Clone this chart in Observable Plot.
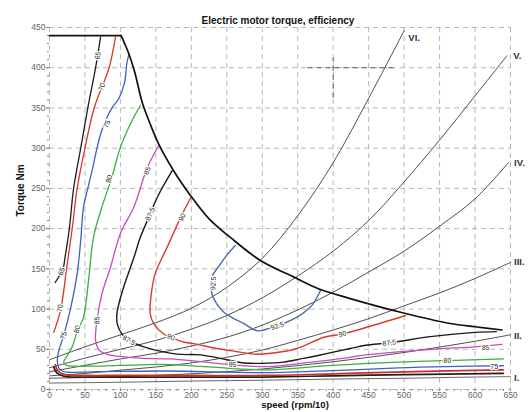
<!DOCTYPE html>
<html><head><meta charset="utf-8">
<script src="https://cdn.jsdelivr.net/npm/d3@7"></script>
<script src="https://cdn.jsdelivr.net/npm/@observablehq/plot@0.6"></script>
<style>body{margin:0;background:#fff}svg{display:block}</style>
</head><body><div id="chart"></div>
<script>
const title = "Electric motor torque, efficiency";
const xLabel = "speed (rpm/10)";
const yLabel = "Torque Nm";
const xTicks = [0,50,100,150,200,250,300,350,400,450,500,550,600,650];
const yTicks = [0,50,100,150,200,250,300,350,400,450];

// maximum torque envelope
const envelope = [[0,440],[101,440],[106,430],[112,417],[120,395],[131,356],[142,330],[154,305],[175,272],[199,241],[225,212],[255,189],[298,160],[344,140],[380,125],[424,113],[495,96],[565,82],[600,78],[638,74]];

// operating (road load) lines
const lineI   = [[0,8],[100,9],[200,10.5],[300,11.5],[400,13],[500,14],[600,15.5],[650,16]];
const lineII  = [[0,14],[100,16],[200,19.5],[300,25.5],[400,34.5],[500,46],[600,60],[650,68]];
const lineIII = [[0,17],[50,20],[100,24],[150,28],[200,33],[250,40],[300,49],[350,61],[400,74],[450,88],[500,104],[550,120],[600,138],[650,158]];
const lineIV  = [[0,22],[50,30],[100,38],[150,45],[200,54],[250,65],[300,80],[350,99],[400,121],[450,146],[500,172],[550,203],[600,237],[647,282]];
const lineV   = [[0,27],[50,39],[100,50],[150,61],[200,75],[250,92],[300,114],[350,141],[400,172],[450,210],[500,258],[550,310],[600,365],[645,415]];
const lineVI  = [[0,37],[50,53],[100,68],[150,83],[200,101],[250,127],[300,163],[350,216],[400,282],[450,362],[500,446]];
const lineLabels = [["VI.",506,437],["V.",654,415],["IV.",655,281],["III.",655,158],["II.",655,67],["I.",655,14]];

// efficiency contours (%)
const c65a = [[72,438],[65,400],[54,350],[44,300],[34,250],[28,200],[22,165],[19,150],[8,133]];
const c65b = [[6,28],[10,21],[20,16.5],[50,15.5],[100,15.5],[200,15.5],[300,15.5],[400,17],[500,18.5],[640,20]];
const c70a = [[93,438],[84,400],[63,350],[50,300],[39,250],[32,200],[24,150],[16,100],[6,71]];
const c70b = [[8,31],[12,23],[22,18.5],[50,17.5],[100,17.5],[200,17.5],[300,17.5],[400,19.5],[500,22],[640,24.5]];
const c75  = [[112,417],[109,405],[106,382],[98,362],[88,350],[73,320],[60,272],[54,250],[48,227],[44,185],[39,144],[30,102],[20,67],[13,48],[11,36],[13,27],[18,23],[25,21.5],[60,22],[100,22.5],[171,23],[250,21.5],[305,21],[400,23.5],[492,27],[560,28.5],[640,29.5]];
const c80  = [[128,353],[114,330],[100,301],[88,264],[74,227],[62,189],[55,135],[48,90],[39,72],[32,53],[25,42],[20,34],[24,30],[35,29],[60,29],[100,30],[171,31],[260,26],[311,24.5],[399,30],[492,34],[561,36],[640,38]];
const c85  = [[154,303],[138,276],[119,227],[100,194],[86,152],[74,119],[67,86],[65,61],[70,49],[80,44],[91,42],[128,39],[171,38],[210,35],[260,30.5],[307,28.5],[360,33],[424,40],[446,43],[540,50],[600,53],[638,56]];
const c875 = [[173,272],[152,239],[142,218],[128,189],[119,164],[103,123],[95,94],[96,80],[103,68],[112,61],[133,53],[180,44],[213,43],[250,37],[274,33],[300,32.5],[330,34],[354,38],[377,42],[424,51],[446,55],[479,58],[540,66],[600,71],[630,72]];
const c90  = [[199,238],[185,214],[166,177],[149,144],[143,115],[142,94],[147,82],[161,69],[171,65],[189,59],[203,57],[236,51],[265,47],[288,44],[312,45],[349,51],[387,65],[413,69],[450,78],[502,92]];
const c925 = [[262,179],[250,167],[241,156],[229,140],[228,130],[229,119],[236,106],[246,96],[260,88],[274,82],[293,73],[310,76],[321,79],[349,90],[365,100],[373,108],[382,123]];
const contourLabels = [
  ["65",68,415,-81],["65",17,147,-72],
  ["70",74,376,-70],["70",15,101,-78],
  ["75",81,330,-67],["75",20,67,-72],["75",627,28,0],
  ["80",84,262,-72],["80",39,75,-75],["80",561,36,-2],
  ["85",138,272,-68],["85",67,86,-88],["85",258,31,6],["85",615,52,-3],
  ["87.5",142,218,-67],["87.5",112,61,30],["87.5",479,58,-8],
  ["90",187,214,-64],["90",171,65,22],["90",413,69,-15],
  ["92.5",231,132,-88],["92.5",321,79,-19]
];
const cursorH = [364,490,400];
const cursorV = [400,362,412];

const rows = a => a.map(([x,y]) => ({x,y}));
const minorX = d3.range(0,651,10);
const minorY = d3.range(0,451,10);
const FONT = "Liberation Sans, Arial, sans-serif";

const contours = [
  [c65a,"#1e1e1e",1.3],[c65b,"#2a1a1a",1.7],
  [c70a,"#d8362c",1.3],[c70b,"#c8302a",1.7],
  [c75,"#3f5fc6",1.3],[c80,"#3bb03b",1.3],[c85,"#c04ec0",1.3],
  [c875,"#1a1a1a",1.4],[c90,"#d83a2e",1.4],[c925,"#4a6cb2",1.4]
];
const roadLines = [lineII,lineIII,lineIV,lineV,lineVI];

const plot = Plot.plot({
  width: 532, height: 412,
  marginLeft: 49, marginRight: 22, marginTop: 27, marginBottom: 23,
  style: {fontFamily: FONT, background: "#fff"},
  x: {domain: [0,650], label: null},
  y: {domain: [0,450], label: null},
  marks: [
    Plot.ruleX(xTicks, {stroke: "#a6a6a6", strokeWidth: 0.8, strokeDasharray: "5,4"}),
    Plot.ruleY(yTicks, {stroke: "#a6a6a6", strokeWidth: 0.8, strokeDasharray: "5,4"}),
    Plot.ruleY([cursorH[2]], {x1: cursorH[0], x2: cursorH[1], stroke: "#555", strokeWidth: 1, strokeDasharray: "5,4"}),
    Plot.ruleX([cursorV[0]], {y1: cursorV[1], y2: cursorV[2], stroke: "#555", strokeWidth: 1, strokeDasharray: "5,4"}),
    Plot.axisX({ticks: minorX, tickSize: 2, tickFormat: () => "", stroke: "#888"}),
    Plot.axisY({ticks: minorY, tickSize: 2, tickFormat: () => "", stroke: "#888"}),
    Plot.axisX({ticks: xTicks, tickSize: 2, tickPadding: 0, fontSize: 8.5, color: "#666", stroke: "#888"}),
    Plot.axisY({ticks: yTicks, tickSize: 3, tickPadding: 1, fontSize: 8.5, color: "#666", stroke: "#888"}),
    Plot.line(rows(lineI), {x: "x", y: "y", stroke: "#666", strokeWidth: 1, curve: "catmull-rom"}),
    ...roadLines.map(l => Plot.line(rows(l), {x: "x", y: "y", stroke: "#222", strokeWidth: 0.8, curve: "catmull-rom"})),
    ...contours.map(([c,col,w]) => Plot.line(rows(c), {x: "x", y: "y", stroke: col, strokeWidth: w, curve: "catmull-rom"})),
    Plot.line(rows(envelope.slice(0,2)), {x: "x", y: "y", stroke: "#111", strokeWidth: 1.7}),
    Plot.line(rows(envelope.slice(1)), {x: "x", y: "y", stroke: "#111", strokeWidth: 1.7, curve: "catmull-rom"}),
    Plot.text(contourLabels, {x: d => d[1], y: d => d[2], text: d => d[0], rotate: d => d[3], fontSize: 7, fill: "#222", stroke: "white", strokeWidth: 2.5, paintOrder: "stroke"}),
    Plot.text(lineLabels, {x: d => d[1], y: d => d[2], text: d => d[0], textAnchor: "start", fontSize: 9.5, fontWeight: "bold", fill: "#333"}),
    Plot.text([title], {text: d => d, frameAnchor: "top", dy: -11, dx: -2, fontSize: 10, fontWeight: "bold", fill: "#111"}),
    Plot.text([xLabel], {text: d => d, frameAnchor: "bottom", dy: 18.5, dx: 15, fontSize: 9.5, fontWeight: "bold", fill: "#111"}),
    Plot.text([yLabel], {text: d => d, frameAnchor: "left", dx: -29, dy: 8, rotate: -90, fontSize: 10, fontWeight: "bold", fill: "#111"})
  ]
});
document.getElementById("chart").appendChild(plot);
</script></body></html>
